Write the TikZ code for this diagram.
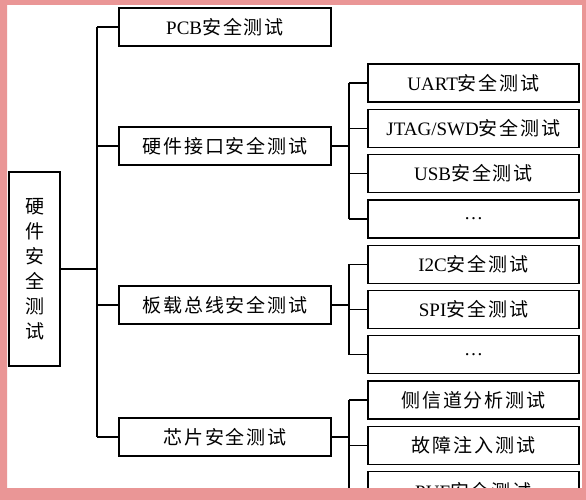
\documentclass[tikz,border=0pt]{standalone}
\usepackage{fontspec}
\setmainfont{Liberation Serif}
\newfontfamily\cjk[LetterSpace=10]{Noto Sans CJK SC}
\newcommand\zhtxt[1]{{\cjk #1}}
\usetikzlibrary{positioning}
\definecolor{framepink}{RGB}{234,150,150}

\begin{document}
\begin{tikzpicture}[x=1pt,y=-1pt, line width=1.3pt,
    every node/.style={font=\fontsize{19}{25}\selectfont},
    topbox/.style={draw, rectangle, inner sep=0pt, minimum width=212pt, minimum height=38pt},
    subbox/.style={draw, rectangle, inner sep=0pt, minimum width=211pt, minimum height=38pt}]
    \useasboundingbox (0,0) rectangle (586,500);
    \fill[white] (0,0) rectangle (586,500);
    % root
    \node[draw, rectangle, inner sep=0pt, minimum width=51pt, minimum height=194pt, align=center,
        font=\cjk\fontsize{19}{25}\selectfont] (root) at (34.5,269) {硬\\件\\安\\全\\测\\试};
    % first level
    \node[topbox] (pcb) at (225,27) {PCB\zhtxt{安全测试}};
    \node[topbox] (iface) at (225,146) {\zhtxt{硬件接口安全测试}};
    \node[topbox] (bus) at (225,305) {\zhtxt{板载总线安全测试}};
    \node[topbox] (chip) at (225,437) {\zhtxt{芯片安全测试}};
    % second level
    \node[subbox] (uart) at (473.5,83) {UART\zhtxt{安全测试}};
    \node[subbox, below=6pt of uart] (jtag) {JTAG/SWD\zhtxt{安全测试}};
    \node[subbox, below=6pt of jtag] (usb) {USB\zhtxt{安全测试}};
    \node[subbox, below=6pt of usb] (ifmore) {\dots};
    \node[subbox, below=6pt of ifmore] (i2c) {I2C\zhtxt{安全测试}};
    \node[subbox, below=6pt of i2c] (spi) {SPI\zhtxt{安全测试}};
    \node[subbox, below=6pt of spi] (busmore) {\dots};
    \node[subbox, below=6pt of busmore] (side) {\zhtxt{侧信道分析测试}};
    \node[subbox, below=6pt of side] (fault) {\zhtxt{故障注入测试}};
    \node[subbox, below=6pt of fault] (puf) {PUF\zhtxt{安全测试}};
    % connectors
    \coordinate (trunk) at (97,0);
    \draw (root.east) -- (root.east -| trunk);
    \draw (pcb.west -| trunk) -- (chip.west -| trunk);
    \foreach \n in {pcb,iface,bus,chip}
        \draw (\n.west -| trunk) -- (\n.west);
    \coordinate (subtrunk) at (349,0);
    \draw (iface.east) -- (iface.east -| subtrunk);
    \draw (uart.west -| subtrunk) -- (ifmore.west -| subtrunk);
    \draw (bus.east) -- (bus.east -| subtrunk);
    \draw (i2c.west -| subtrunk) -- (busmore.west -| subtrunk);
    \draw (chip.east) -- (chip.east -| subtrunk);
    \draw (side.west -| subtrunk) -- (puf.west -| subtrunk);
    \foreach \n in {uart,jtag,usb,ifmore,i2c,spi,busmore,side,fault,puf}
        \draw (\n.west -| subtrunk) -- (\n.west);
    % frame
    \fill[framepink, even odd rule] (0,0) rectangle (586,500) (7,5) rectangle (582,488);
\end{tikzpicture}
\end{document}
